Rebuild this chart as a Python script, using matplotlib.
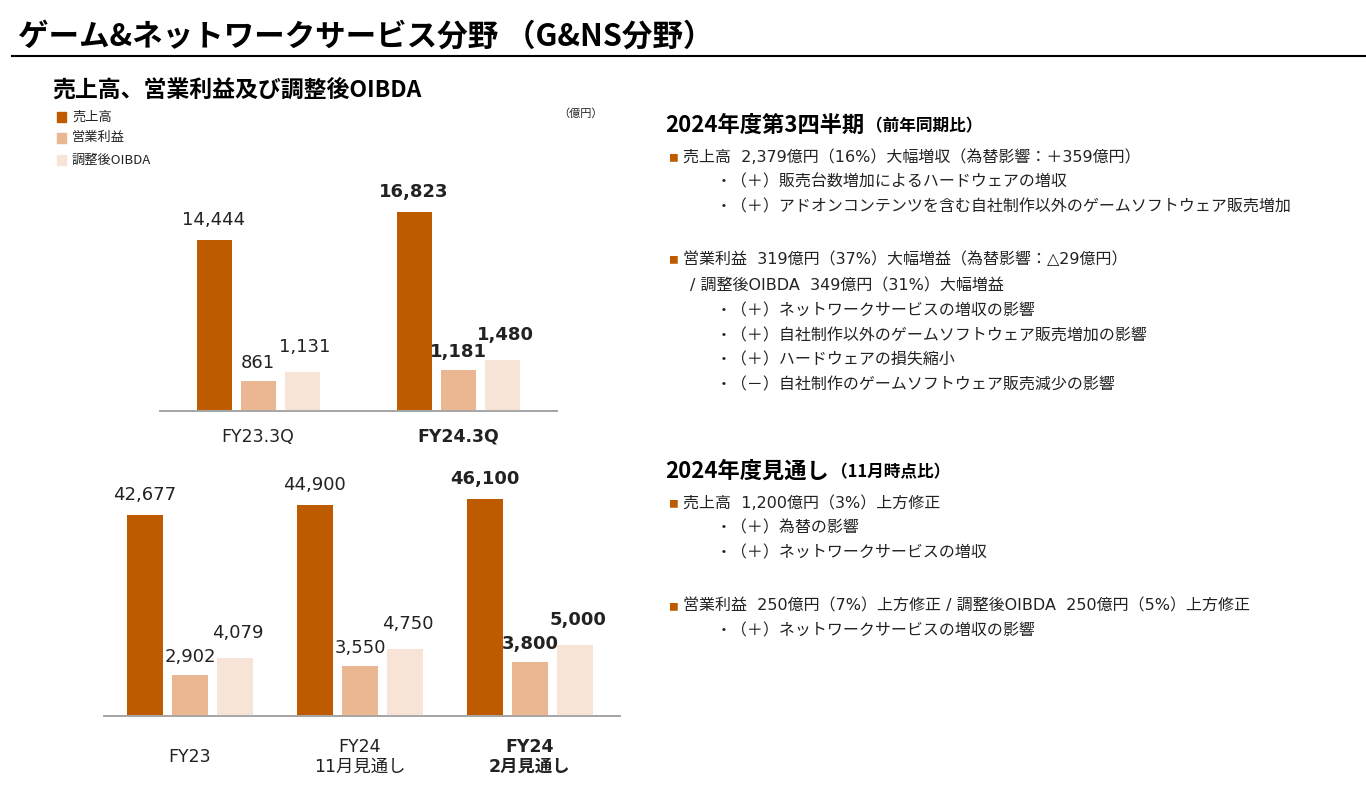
import matplotlib
matplotlib.use('Agg')
import matplotlib.pyplot as plt
from matplotlib.lines import Line2D

plt.rcParams['font.family'] = ['Noto Sans CJK JP', 'DejaVu Sans']

W, H = 1366, 795

# Data (億円)
SERIES = ['売上高', '営業利益', '調整後OIBDA']
COLORS = ['#BE5A00', '#EBB793', '#F8E3D7']

q_labels = ['FY23.3Q', 'FY24.3Q']
q_sales = [14444, 16823]
q_op = [861, 1181]
q_oibda = [1131, 1480]

y_labels = ['FY23', 'FY24\n11月見通し', 'FY24\n2月見通し']
y_sales = [42677, 44900, 46100]
y_op = [2902, 3550, 3800]
y_oibda = [4079, 4750, 5000]

LATIN_FIRST = ['DejaVu Sans', 'Noto Sans CJK JP']


def px_axes(fig, left, top, right, bottom):
    return fig.add_axes([left / W, 1 - bottom / H, (right - left) / W, (bottom - top) / H])


def ftext(fig, x, y, s, **kw):
    kw.setdefault('va', 'center')
    return fig.text(x / W, 1 - y / H, s, **kw)


def bar_chart(fig, box, labels, sales, op, oibda, sales_max, sub_max,
              step, width, xlim, label_drop):
    ax = px_axes(fig, *box)
    ax2 = ax.twinx()
    n = len(labels)
    xs = list(range(n))
    ax.bar([x - step for x in xs], sales, width, color=COLORS[0], zorder=2)
    ax2.bar(xs, op, width, color=COLORS[1], zorder=2)
    ax2.bar([x + step for x in xs], oibda, width, color=COLORS[2], zorder=2)
    ax.set_ylim(0, sales_max)
    ax2.set_ylim(0, sub_max)
    ax.set_xlim(*xlim)
    for a in (ax, ax2):
        for s in ('top', 'left', 'right'):
            a.spines[s].set_visible(False)
        a.spines['bottom'].set_color('#A6A6A6')
        a.spines['bottom'].set_linewidth(1.3)
        a.set_yticks([])
        a.set_xticks([])
    for i in xs:
        last = (i == n - 1)
        wt = 'bold' if last else 'normal'
        ax.annotate(f'{sales[i]:,}', (i - step, sales[i]), xytext=(0, 20 * 0.72),
                    textcoords='offset points', ha='center', va='center',
                    fontsize=13, weight=wt, family=LATIN_FIRST, color='#222222')
        ax2.annotate(f'{op[i]:,}', (i, op[i]), xytext=(0, 18 * 0.72),
                     textcoords='offset points', ha='center', va='center',
                     fontsize=13, weight=wt, family=LATIN_FIRST, color='#222222')
        ax2.annotate(f'{oibda[i]:,}', (i + step, oibda[i]), xytext=(3 * 0.72, 25 * 0.72),
                     textcoords='offset points', ha='center', va='center',
                     fontsize=13, weight=wt, family=LATIN_FIRST, color='#222222')
        ax.annotate(labels[i], (i, 0), xycoords=('data', 'axes fraction'),
                    xytext=(0, -label_drop * 0.72), textcoords='offset points',
                    ha='center', va='center', multialignment='center',
                    fontsize=12.5, weight=wt, family=LATIN_FIRST, color='#222222',
                    linespacing=1.15)
    return ax


fig = plt.figure(figsize=(W / 100, H / 100), dpi=100)

# Header
ftext(fig, 18, 37, 'ゲーム&ネットワークサービス分野 （G&NS分野）',
      fontsize=22, weight='bold', color='black')
fig.add_artist(Line2D([12 / W, 1], [1 - 56 / H, 1 - 56 / H], color='black', lw=1.5))
ftext(fig, 52, 90, '売上高、営業利益及び調整後OIBDA', fontsize=16.5, weight='bold')

# Legend
for k, (name, col) in enumerate(zip(SERIES, COLORS)):
    y = [117, 138, 160][k]
    fig.patches.append(plt.Rectangle((57 / W, 1 - (y + 5) / H), 9 / W, 10 / H,
                                     transform=fig.transFigure, color=col, figure=fig))
    ftext(fig, 72, y, name, fontsize=9.5, color='#222222')
ftext(fig, 558, 114, '（億円）', fontsize=8, color='#222222')

# Charts
bar_chart(fig, (160, 211, 557, 411), q_labels, q_sales, q_op, q_oibda,
          200 / 0.01184, 200 / 0.0347, 0.22, 0.175, (-0.49, 1.495), 26)
bar_chart(fig, (104, 496, 620, 716), y_labels, y_sales, y_op, y_oibda,
          220 / 0.00471, 220 / 0.01413, 0.265, 0.21, (-0.506, 2.53), 41)

# Right-hand commentary
renderer = fig.canvas.get_renderer()


def heading(x, y, main, sub):
    t = ftext(fig, x, y, main, fontsize=16, weight='bold')
    bb = t.get_window_extent(renderer)
    ftext(fig, bb.x1 + 2, y + 1, sub, fontsize=12, weight='bold')


def bullet(x, y, s):
    ftext(fig, x - 15, y + 1, '■', fontsize=7, color='#BE5A00')
    ftext(fig, x, y, s, fontsize=11.5, color='#222222', family=LATIN_FIRST)


def line(x, y, s):
    ftext(fig, x, y, s, fontsize=11.5, color='#222222', family=LATIN_FIRST)


heading(665, 125, '2024年度第3四半期', '（前年同期比）')
bullet(683, 157, '売上高  2,379億円（16%）大幅増収（為替影響：＋359億円）')
line(716, 182, '・（＋）販売台数増加によるハードウェアの増収')
line(716, 207, '・（＋）アドオンコンテンツを含む自社制作以外のゲームソフトウェア販売増加')
bullet(683, 259, '営業利益  319億円（37%）大幅増益（為替影響：△29億円）')
line(690, 286, '/ 調整後OIBDA  349億円（31%）大幅増益')
line(716, 311, '・（＋）ネットワークサービスの増収の影響')
line(716, 336, '・（＋）自社制作以外のゲームソフトウェア販売増加の影響')
line(716, 360, '・（＋）ハードウェアの損失縮小')
line(716, 385, '・（－）自社制作のゲームソフトウェア販売減少の影響')

heading(665, 471, '2024年度見通し', '（11月時点比）')
bullet(683, 503, '売上高  1,200億円（3%）上方修正')
line(716, 528, '・（＋）為替の影響')
line(716, 553, '・（＋）ネットワークサービスの増収')
bullet(683, 606, '営業利益  250億円（7%）上方修正 / 調整後OIBDA  250億円（5%）上方修正')
line(716, 631, '・（＋）ネットワークサービスの増収の影響')

fig.savefig('out.png', dpi=100)
